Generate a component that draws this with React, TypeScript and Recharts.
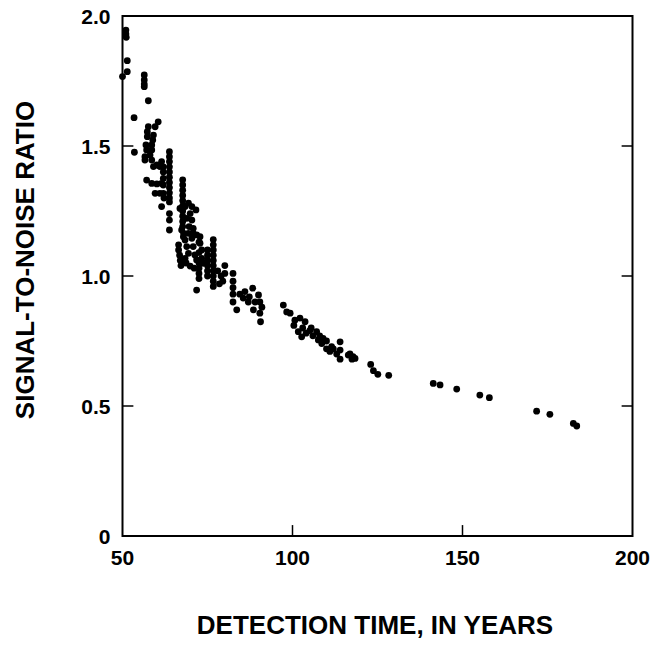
import { ScatterChart, Scatter, XAxis, YAxis, ReferenceArea, ReferenceLine } from "recharts";

const FONT = '"Liberation Sans", Arial, Helvetica, sans-serif';

const xTicks = [50, 100, 150, 200];
const yTicks = [0, 0.5, 1, 1.5, 2];
const yTickLabels: Record<number, string> = { 0: "0", 0.5: "0.5", 1: "1.0", 1.5: "1.5", 2: "2.0" };
// inward tick marks on the frame
const innerXTicks = [100, 150];
const innerYTicks = [0.5, 1, 1.5];

// [detection time in years, signal-to-noise ratio]
const earlyRuns: [number, number][] = [
  [51.0, 1.946], [51.0, 1.931], [51.1, 1.918], [51.4, 1.828], [51.4, 1.786], [50, 1.767],
  [56.4, 1.773], [56.4, 1.754], [56.4, 1.738], [56.4, 1.728], [57.6, 1.674], [53.4, 1.609], [53.5, 1.476],
  [60.5, 1.593], [59.6, 1.574], [57.6, 1.574], [57.3, 1.555], [57.3, 1.536], [59.1, 1.542], [58.9, 1.523],
  [58.6, 1.504], [58.6, 1.485], [56.9, 1.504], [57.1, 1.485], [56.6, 1.459], [56.6, 1.446], [58.1, 1.465],
  [58.6, 1.446], [59.1, 1.421], [60.1, 1.427], [61.5, 1.44], [61.0, 1.421],
  [57.1, 1.369], [58.6, 1.356], [60.1, 1.354], [61.5, 1.356], [59.6, 1.318], [61.0, 1.318], [62.0, 1.318], [61.5, 1.267],
  [62.0, 1.42], [62.0, 1.40], [62.0, 1.375], [62.0, 1.35], [62.2, 1.30],
  [63.8, 1.478], [63.8, 1.459], [63.8, 1.44], [63.8, 1.42], [63.8, 1.40], [63.8, 1.38], [63.8, 1.36],
  [63.8, 1.34], [63.8, 1.32], [63.8, 1.30], [63.8, 1.285], [63.8, 1.24], [63.8, 1.215], [63.8, 1.177],
];

const middleRuns: [number, number][] = [
  [67.7, 1.37], [67.7, 1.35], [67.7, 1.33], [67.7, 1.31], [67.7, 1.29], [67.7, 1.27], [67.7, 1.25],
  [67.7, 1.23], [67.7, 1.21], [67.7, 1.19],
  [66.9, 1.26], [68.4, 1.267], [69.4, 1.28], [70.4, 1.267], [71.6, 1.254], [69.9, 1.24], [68.9, 1.222],
  [70.4, 1.215], [69.6, 1.19], [70.8, 1.183], [67.4, 1.177], [67.9, 1.151], [69.4, 1.164], [70.8, 1.164], [71.8, 1.158],
  [66.5, 1.12], [66.5, 1.10], [66.8, 1.08], [67.0, 1.06], [67.2, 1.04],
  [68.0, 1.164], [68.4, 1.138], [68.9, 1.113], [69.4, 1.087], [68.4, 1.068], [70.4, 1.145], [70.8, 1.113],
  [71.3, 1.081], [71.8, 1.062], [72.8, 1.151], [72.8, 1.126], [73.3, 1.10], [73.3, 1.068], [73.8, 1.049],
  [68.7, 1.05], [69.9, 1.038], [71.1, 1.03],
  [72.5, 1.13], [72.5, 1.09], [72.5, 1.05], [72.5, 1.03], [72.5, 1.01], [72.5, 0.99],
  [75.0, 1.10], [75.0, 1.08], [75.0, 1.06], [75.0, 1.04], [75.0, 1.02], [75.0, 1.00],
  [76.7, 1.14], [76.7, 1.12], [76.7, 1.10], [76.7, 1.08], [76.7, 1.06], [76.7, 1.04], [76.7, 1.02],
  [76.7, 1.00], [76.7, 0.98], [76.7, 0.96],
  [78.0, 1.02], [79.0, 1.00], [79.5, 0.98], [78.5, 0.97], [80.1, 1.04], [80.1, 1.01], [71.8, 0.946],
  [82.5, 1.01], [82.5, 0.98], [82.5, 0.955], [82.5, 0.93], [82.5, 0.90], [83.6, 0.87],
  [86.0, 0.94], [88.3, 0.953], [87.3, 0.92], [90.0, 0.927], [90.4, 0.90], [88.5, 0.87], [90.4, 0.857],
  [90.6, 0.824], [85.5, 0.915], [89.0, 0.90], [91.0, 0.88], [87.0, 0.90], [84.5, 0.93],
];

const lateRuns: [number, number][] = [
  [97.3, 0.888], [98.3, 0.862], [99.3, 0.857], [100.7, 0.83], [100.4, 0.81], [102.2, 0.838], [103.7, 0.824],
  [101.7, 0.786], [102.7, 0.766], [105.1, 0.79], [107.1, 0.786], [107.6, 0.754], [108.6, 0.74], [110.0, 0.72],
  [111.5, 0.728], [111.0, 0.71], [114.0, 0.747], [114.0, 0.715], [114.0, 0.68], [116.4, 0.696], [118.4, 0.683],
  [116.9, 0.70], [117.8, 0.69], [117.5, 0.68], [103.0, 0.80], [104.0, 0.78], [106.0, 0.77], [109.0, 0.76],
  [110.0, 0.75], [112.0, 0.72], [113.0, 0.70], [105.5, 0.80], [108.0, 0.77],
  [123.0, 0.66], [123.8, 0.636], [125.1, 0.622], [128.3, 0.618], [141.4, 0.587], [143.4, 0.581],
  [148.3, 0.565], [155.1, 0.542], [157.9, 0.532], [171.8, 0.48], [175.7, 0.468], [182.6, 0.433], [183.6, 0.423],
];

const points = [...earlyRuns, ...middleRuns, ...lateRuns].map(([years, snr]) => ({ years, snr }));

// tick mark length in data units (about 11px)
const TICK_YEARS = 3.2;
const TICK_SNR = 0.042;

const BottomTick = ({ x, y, payload }: any) => (
  <text x={x} y={y + 29} textAnchor="middle" fontSize={21} fontWeight="bold" fontFamily={FONT} fill="#000">
    {payload.value}
  </text>
);

const LeftTick = ({ x, y, payload }: any) => (
  <text x={x - 12} y={y + 7.5} textAnchor="end" fontSize={21} fontWeight="bold" fontFamily={FONT} fill="#000">
    {yTickLabels[payload.value]}
  </text>
);

const Dot = ({ cx, cy }: any) => <circle cx={cx} cy={cy} r={3.4} fill="#000" />;

export default function App() {
  return (
    <div style={{ position: "absolute", left: 0, top: 0, width: 652, height: 649, background: "#fff" }}>
      <ScatterChart width={652} height={649} margin={{ top: 16, right: 19.5, bottom: 0, left: 0 }}>
        <XAxis
          dataKey="years"
          type="number"
          domain={[50, 200]}
          ticks={xTicks}
          height={113}
          tickSize={0}
          tickMargin={0}
          tickLine={false}
          axisLine={false}
          tick={<BottomTick />}
        />
        <YAxis
          dataKey="snr"
          type="number"
          domain={[0, 2]}
          ticks={yTicks}
          width={122.5}
          tickSize={0}
          tickMargin={0}
          tickLine={false}
          axisLine={false}
          tick={<LeftTick />}
        />
        <ReferenceArea x1={50} x2={200} y1={0} y2={2} fill="none" stroke="#000" strokeWidth={2} />
        {innerXTicks.map((t) => (
          <ReferenceLine
            key={`xt${t}`}
            segment={[{ x: t, y: 0 }, { x: t, y: TICK_SNR }]}
            stroke="#000"
            strokeWidth={1.5}
          />
        ))}
        {innerYTicks.map((t) => (
          <ReferenceLine
            key={`yl${t}`}
            segment={[{ x: 50, y: t }, { x: 50 + TICK_YEARS, y: t }]}
            stroke="#000"
            strokeWidth={1.5}
          />
        ))}
        {innerYTicks.map((t) => (
          <ReferenceLine
            key={`yr${t}`}
            segment={[{ x: 200 - TICK_YEARS, y: t }, { x: 200, y: t }]}
            stroke="#000"
            strokeWidth={1.5}
          />
        ))}
        <Scatter data={points} fill="#000" shape={<Dot />} isAnimationActive={false} />
      </ScatterChart>
      <svg width={652} height={649} style={{ position: "absolute", left: 0, top: 0, pointerEvents: "none" }}>
        <text
          transform="translate(25,260) rotate(-90)"
          textAnchor="middle"
          dominantBaseline="central"
          fontSize={26}
          fontWeight="bold"
          fontFamily={FONT}
          fill="#000"
        >
          SIGNAL-TO-NOISE RATIO
        </text>
        <text x={375} y={634} textAnchor="middle" fontSize={26} fontWeight="bold" fontFamily={FONT} fill="#000">
          DETECTION TIME, IN YEARS
        </text>
      </svg>
    </div>
  );
}
